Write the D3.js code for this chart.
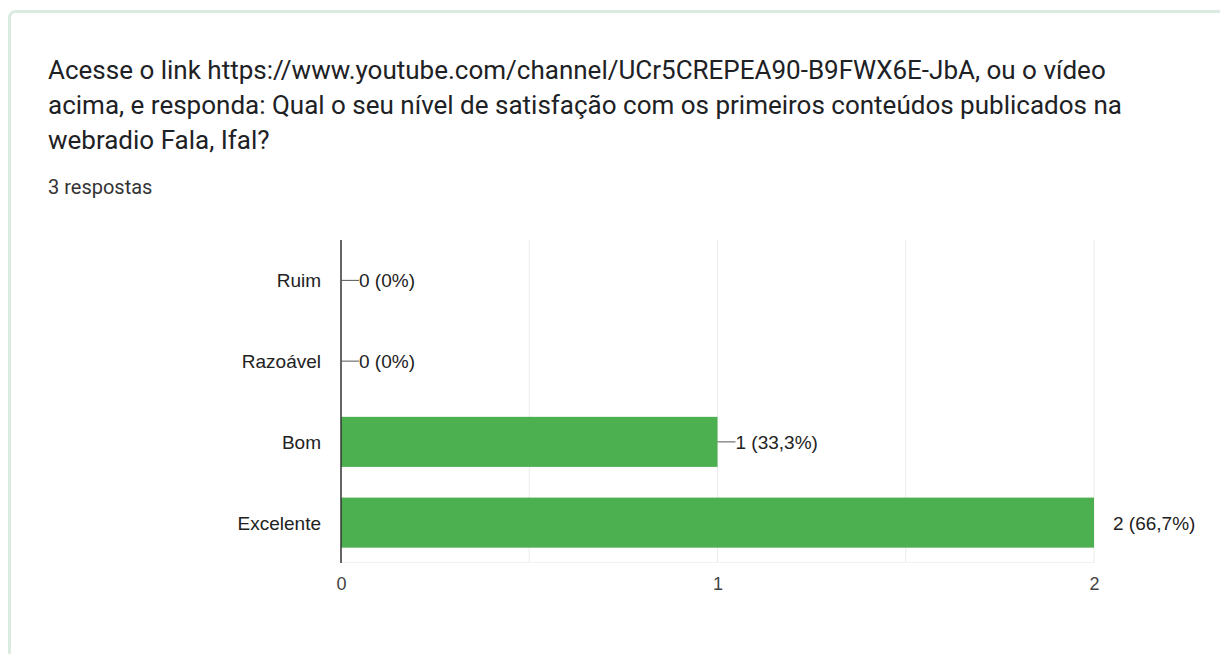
<!DOCTYPE html>
<html><head><meta charset="utf-8">
<script src="https://cdn.jsdelivr.net/npm/d3@7"></script>
<style>
html,body{margin:0;padding:0;background:#fff;}
svg{display:block;}
</style></head>
<body>
<svg id="chart" width="1220" height="654"></svg>
<script>
const titleLines = [
  "Acesse o link https://www.youtube.com/channel/UCr5CREPEA90-B9FWX6E-JbA, ou o vídeo",
  "acima, e responda: Qual o seu nível de satisfação com os primeiros conteúdos publicados na",
  "webradio Fala, Ifal?"
];
const subtitle = "3 respostas";
const categories = ["Ruim", "Razoável", "Bom", "Excelente"];
const values = [0, 0, 1, 2];
const labels = ["0 (0%)", "0 (0%)", "1 (33,3%)", "2 (66,7%)"];
const xTicks = [0, 1, 2];
const gridTicks = [0.5, 1, 1.5, 2];

const svg = d3.select("#chart");

// card
svg.append("rect").attr("x", 9.5).attr("y", 11.5).attr("width", 1240).attr("height", 700)
  .attr("rx", 6).attr("fill", "#fff").attr("stroke", "#dcebe2").attr("stroke-width", 3);

const tg = svg.append("g");
titleLines.forEach((t, i) => {
  tg.append("text").attr("x", 48).attr("y", 79 + i * 35)
    .attr("font-family", "Roboto, 'Open Sans', sans-serif").attr("font-size", 26)
    .attr("fill", "#202124").text(t);
});
svg.append("text").attr("x", 48).attr("y", 194)
  .attr("font-family", "Roboto, sans-serif").attr("font-size", 20)
  .attr("fill", "#333").text(subtitle);

const x = d3.scaleLinear().domain([0, 2]).range([341, 1094]);
const y = d3.scaleBand().domain(categories).range([240, 563]).paddingInner(0.38).paddingOuter(0.19);

const F = "Arial, 'Liberation Sans', sans-serif";

// gridlines
svg.append("g").selectAll("line").data(gridTicks).join("line")
  .attr("x1", d => x(d)).attr("x2", d => x(d)).attr("y1", 240).attr("y2", 563)
  .attr("stroke", "#ebebeb").attr("stroke-width", 1);
svg.append("line").attr("x1", 341).attr("x2", 1094).attr("y1", 562.5).attr("y2", 562.5)
  .attr("stroke", "#f6eef6");

// bars
svg.append("g").selectAll("rect").data(values).join("rect")
  .attr("x", x(0)).attr("y", (d, i) => y(categories[i]))
  .attr("width", d => x(d) - x(0)).attr("height", y.bandwidth())
  .attr("fill", "#4caf50");

// axis line
svg.append("line").attr("x1", 341).attr("x2", 341).attr("y1", 240).attr("y2", 563)
  .attr("stroke", "#333").attr("stroke-width", 1.5);

// category labels
svg.append("g").selectAll("text").data(categories).join("text")
  .attr("x", 321).attr("y", d => y(d) + y.bandwidth() / 2 + 7)
  .attr("text-anchor", "end").attr("font-family", F)
  .attr("font-size", 19).attr("fill", "#222").text(d => d);

// x tick labels
const xAxis = d3.axisBottom(x).tickValues(xTicks).tickSize(0).tickPadding(0).tickFormat(d3.format("d"));
const xg = svg.append("g").attr("transform", "translate(0,577)").call(xAxis);
xg.select(".domain").remove();
xg.selectAll("text").attr("font-family", F)
  .attr("font-size", 18).attr("fill", "#444").attr("dy", "0.71em");

// value annotations
const ann = svg.append("g");
values.forEach((v, i) => {
  const cy = y(categories[i]) + y.bandwidth() / 2;
  const x0 = x(v);
  const inside = v < 2;
  if (inside) {
    ann.append("line").attr("x1", x0).attr("x2", x0 + 18).attr("y1", cy).attr("y2", cy)
      .attr("stroke", "#555").attr("stroke-width", 1);
  }
  ann.append("text").attr("x", inside ? x0 + 18 : x0 + 19).attr("y", cy + 7)
    .attr("font-family", F).attr("font-size", 19)
    .attr("fill", "#222").text(labels[i]);
});
</script>
</body></html>
